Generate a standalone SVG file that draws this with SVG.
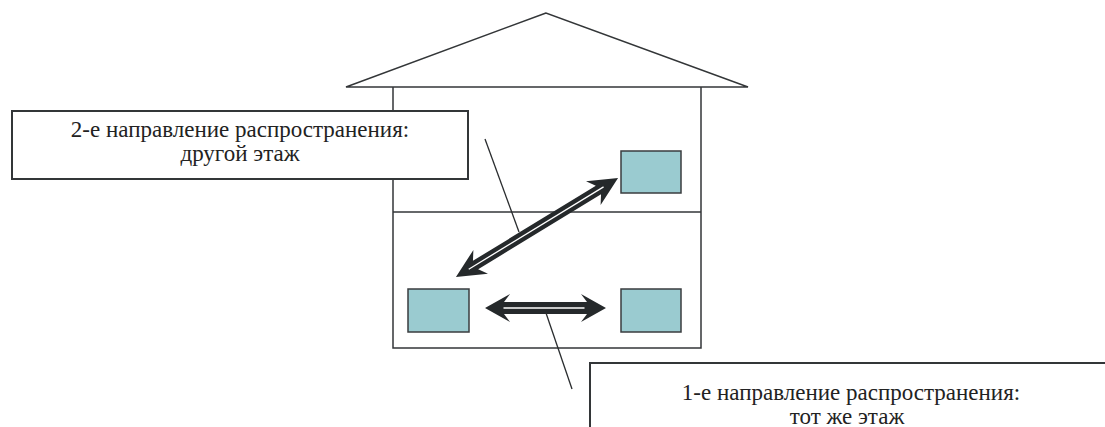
<svg xmlns="http://www.w3.org/2000/svg" width="1105" height="427" viewBox="0 0 1105 427">
<defs>
<style>
.ln{fill:none;stroke:#333638;stroke-width:1.5}
.room{fill:#9ACBD0;stroke:#3a3d3f;stroke-width:1.5}
.box{fill:#fff;stroke:#333638;stroke-width:2}
.arr{fill:#25292b;stroke:none}
.hl{stroke:#fff;stroke-width:1.3;fill:none}
.lead{stroke:#2a2d2f;stroke-width:1.3;fill:none}
.t{font-size:23px;fill:#222;text-anchor:middle}
</style>
</defs>
<rect width="1105" height="427" fill="#fff"/>
<g id="house">
<polygon class="ln" points="546,13 346,87 748,87"/>
<polyline class="ln" points="393,87 393,348 701,348 701,87"/>
<line class="ln" x1="393" y1="212" x2="701" y2="212"/>
</g>
<g id="room-upper"><rect class="room" x="621" y="151" width="60" height="42"/></g>
<g id="room-lower-left"><rect class="room" x="408" y="289" width="61" height="43"/></g>
<g id="room-lower-right"><rect class="room" x="621" y="289" width="60" height="43"/></g>
<g id="connectors">
<g transform="translate(537,227.5) rotate(-31.43)">
<polygon class="arr" points="-95,0 -66,-14 -72,-5 72,-5 66,-14 95,0 66,14 72,5 -72,5 -66,14"/>
<line class="hl" x1="-80" y1="0" x2="78" y2="0"/>
</g>
<g transform="translate(545.5,308)">
<polygon class="arr" points="-60.5,0 -35.5,-14 -41.5,-6 41.5,-6 35.5,-14 60.5,0 35.5,14 41.5,6 -41.5,6 -35.5,14"/>
<line class="hl" x1="-42" y1="0" x2="39" y2="0"/>
</g>
<line class="lead" x1="485" y1="139" x2="519" y2="232"/>
<line class="lead" x1="546" y1="313" x2="572" y2="389"/>
</g>
<g id="label-2" font-family="Liberation Serif, DejaVu Serif, serif">
<rect class="box" x="12" y="111" width="456" height="68"/>
<text class="t" x="240" y="137">2-е направление распространения:</text>
<text class="t" x="240" y="161">другой этаж</text>
</g>
<g id="label-1" font-family="Liberation Serif, DejaVu Serif, serif">
<rect class="box" x="590" y="363" width="530" height="80"/>
<text class="t" x="851" y="400">1-е направление распространения:</text>
<text class="t" x="847" y="424">тот же этаж</text>
</g>
</svg>
